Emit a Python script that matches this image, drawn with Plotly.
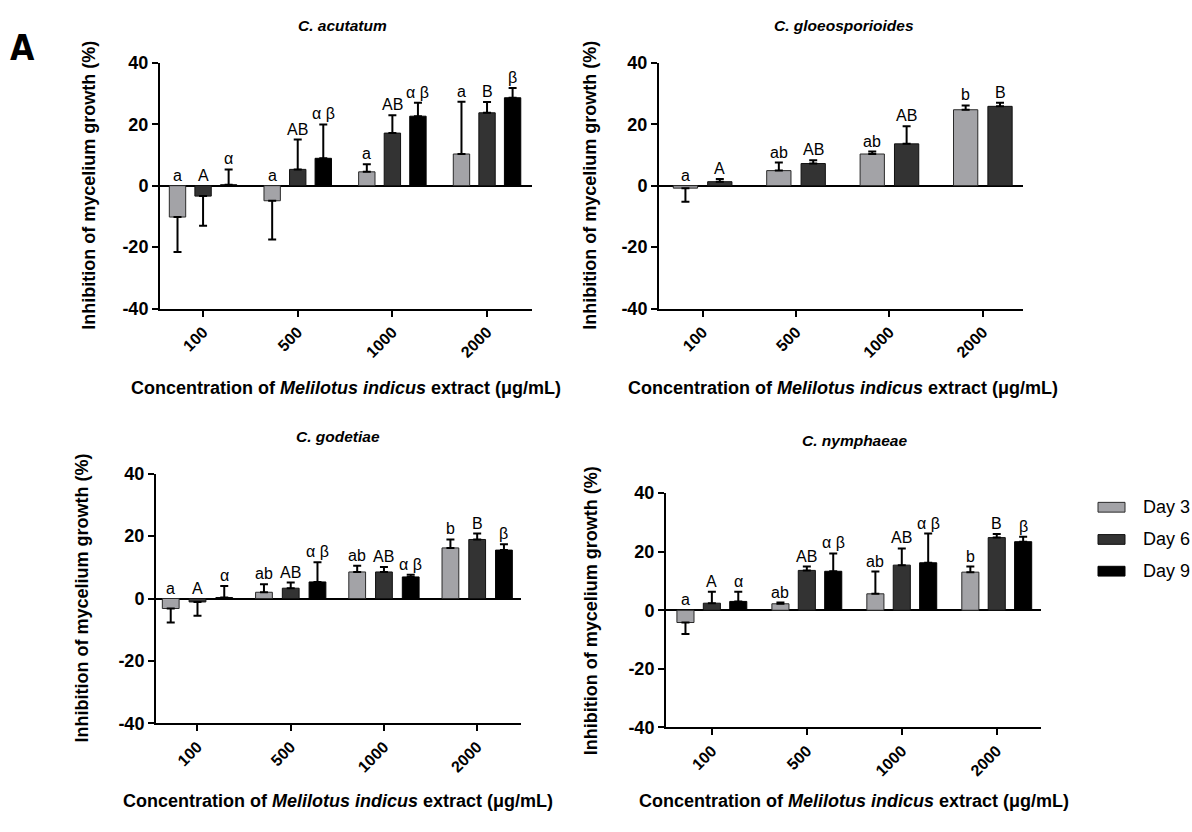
import plotly.graph_objects as go

# ---------------- data ----------------
categories = ["100", "500", "1000", "2000"]
days = ["Day 3", "Day 6", "Day 9"]

# C. acutatum
acu_d3 = [-10.2, -4.9, 4.5, 10.3]
acu_d3_err = [11.4, 12.6, 2.5, 17.0]
acu_d3_lab = ["a", "a", "a", "a"]
acu_d6 = [-3.4, 5.3, 17.1, 23.7]
acu_d6_err = [9.6, 9.7, 5.8, 3.5]
acu_d6_lab = ["A", "AB", "AB", "B"]
acu_d9 = [0.3, 8.9, 22.6, 28.6]
acu_d9_err = [5.0, 11.0, 4.4, 3.2]
acu_d9_lab = ["α", "α β", "α β", "β"]

# C. gloeosporioides
glo_d3 = [-0.8, 4.9, 10.3, 24.7]
glo_d3_err = [4.4, 2.6, 0.8, 1.4]
glo_d3_lab = ["a", "ab", "ab", "b"]
glo_d6 = [1.3, 7.2, 13.6, 25.8]
glo_d6_err = [0.9, 1.1, 5.7, 1.2]
glo_d6_lab = ["A", "AB", "AB", "B"]

# C. godetiae
god_d3 = [-3.2, 2.0, 8.5, 16.2]
god_d3_err = [4.5, 2.6, 2.0, 2.7]
god_d3_lab = ["a", "ab", "ab", "b"]
god_d6 = [-1.1, 3.3, 8.5, 18.9]
god_d6_err = [4.4, 1.8, 1.6, 1.9]
god_d6_lab = ["A", "AB", "AB", "B"]
god_d9 = [0.3, 5.3, 6.9, 15.5]
god_d9_err = [3.7, 6.3, 0.7, 1.9]
god_d9_lab = ["α", "α β", "α β", "β"]

# C. nymphaeae
nym_d3 = [-4.2, 2.2, 5.6, 13.0]
nym_d3_err = [3.9, 0.4, 7.6, 1.9]
nym_d3_lab = ["a", "ab", "ab", "b"]
nym_d6 = [2.4, 13.6, 15.4, 24.8]
nym_d6_err = [3.9, 1.3, 5.7, 1.2]
nym_d6_lab = ["A", "AB", "AB", "B"]
nym_d9 = [3.0, 13.3, 16.2, 23.4]
nym_d9_err = [3.3, 6.1, 10.0, 1.7]
nym_d9_lab = ["α", "α β", "α β", "β"]

panel_titles = ["C. acutatum", "C. gloeosporioides", "C. godetiae", "C. nymphaeae"]
y_ticks = [-40, -20, 0, 20, 40]
y_ticktext = ["-40", "-20", "0", "20", "40"]
x_title = "<b>Concentration of <i>Melilotus indicus</i> extract (μg/mL)</b>"
y_title = "<b>Inhibition of mycelium growth (%)</b>"

panel_series = [
    [(acu_d3, acu_d3_err, acu_d3_lab), (acu_d6, acu_d6_err, acu_d6_lab), (acu_d9, acu_d9_err, acu_d9_lab)],
    [(glo_d3, glo_d3_err, glo_d3_lab), (glo_d6, glo_d6_err, glo_d6_lab)],
    [(god_d3, god_d3_err, god_d3_lab), (god_d6, god_d6_err, god_d6_lab), (god_d9, god_d9_err, god_d9_lab)],
    [(nym_d3, nym_d3_err, nym_d3_lab), (nym_d6, nym_d6_err, nym_d6_lab), (nym_d9, nym_d9_err, nym_d9_lab)],
]

# ---------------- style / layout ----------------
W, H = 1192, 832
FONT = "Liberation Sans, Arial, sans-serif"
fills = ["#a3a3a7", "#333333", "#000000"]
outlines = ["#2a2a2a", "#111111", "#000000"]


def px(x):
    return x / W


def py(y):
    return 1 - y / H


panels = [
    dict(x0=160, x1=532, y0=54, y1=306, xr=[-0.455, 3.475], tx=342, ty=16,
         xtx=346, xty=387, ytx=89, yty=180, offs=[-0.27, 0.0, 0.27], w=0.173),
    dict(x0=659, x1=1023, y0=54, y1=306, xr=[-0.467, 3.43], tx=844, ty=16,
         xtx=843, xty=387, ytx=590, yty=180, offs=[-0.184, 0.184], w=0.26),
    dict(x0=156, x1=521, y0=475, y1=731, xr=[-0.445, 3.47], tx=338, ty=437,
         xtx=338, xty=810, ytx=82, yty=603, offs=[-0.287, 0.0, 0.287], w=0.18),
    dict(x0=666, x1=1041, y0=495, y1=735, xr=[-0.483, 3.466], tx=855, ty=441,
         xtx=854, xty=810, ytx=591, yty=616, offs=[-0.278, 0.0, 0.278], w=0.18),
]

fig = go.Figure()
annotations = []
layout_axes = {}

for k, (P, series) in enumerate(zip(panels, panel_series)):
    n = k + 1
    xa = "x" if n == 1 else f"x{n}"
    ya = "y" if n == 1 else f"y{n}"
    for t, (vals, errs, labs) in enumerate(series):
        up = [e if v >= 0 else 0 for v, e in zip(vals, errs)]
        down = [e if v < 0 else 0 for v, e in zip(vals, errs)]
        fig.add_trace(go.Bar(
            x=categories, y=vals, name=days[t], xaxis=xa, yaxis=ya,
            offset=P["offs"][t] - P["w"] / 2, width=P["w"],
            marker=dict(color=fills[t], line=dict(color=outlines[t], width=1)),
            error_y=dict(type="data", symmetric=False, array=up, arrayminus=down,
                         color="black", thickness=2, width=4),
            showlegend=False,
        ))
        for i, (v, e, lab) in enumerate(zip(vals, errs, labs)):
            top = v + e if v >= 0 else 0
            annotations.append(dict(
                x=i + P["offs"][t], y=top, xref=xa, yref=ya, text=lab,
                showarrow=False, yanchor="bottom", xanchor="center", yshift=0,
                font=dict(family=FONT, size=16, color="black"),
            ))
    axis_common = dict(showline=True, linewidth=2, linecolor="black", ticks="outside",
                       ticklen=6, tickwidth=2, tickcolor="black", showgrid=False,
                       fixedrange=True)
    layout_axes["xaxis" if n == 1 else f"xaxis{n}"] = dict(
        domain=[px(P["x0"]), px(P["x1"])], anchor=ya, type="category",
        range=P["xr"], tickangle=-45, zeroline=False,
        tickfont=dict(family=FONT, size=16, color="black", weight="bold"),
        **axis_common)
    layout_axes["yaxis" if n == 1 else f"yaxis{n}"] = dict(
        domain=[py(P["y1"]), py(P["y0"])], anchor=xa, range=[-40, 40],
        tickmode="array", tickvals=y_ticks, ticktext=y_ticktext,
        zeroline=True, zerolinecolor="black", zerolinewidth=2,
        tickfont=dict(family=FONT, size=18, color="black", weight="bold"),
        **axis_common)
    # panel title
    annotations.append(dict(x=px(P["tx"]), y=py(P["ty"]), xref="paper", yref="paper",
                            text=f"<b><i>{panel_titles[k]}</i></b>", showarrow=False,
                            xanchor="center", yanchor="middle",
                            font=dict(family=FONT, size=15.5, color="black")))
    # x axis title
    annotations.append(dict(x=px(P["xtx"]), y=py(P["xty"]), xref="paper", yref="paper",
                            text=x_title, showarrow=False, xanchor="center", yanchor="middle",
                            font=dict(family=FONT, size=18, color="black")))
    # y axis title
    annotations.append(dict(x=px(P["ytx"]), y=py(P["yty"]), xref="paper", yref="paper",
                            text=y_title, showarrow=False, textangle=-90,
                            xanchor="center", yanchor="middle",
                            font=dict(family=FONT, size=18, color="black")))

# panel label
annotations.append(dict(x=px(22), y=py(39), xref="paper", yref="paper", text="<b>A</b>",
                        showarrow=False, xanchor="center", yanchor="middle",
                        font=dict(family="DejaVu Sans Condensed, Liberation Sans Narrow, Arial Narrow, sans-serif",
                                  size=35, color="black")))

# legend (manual, to match swatch shape and spacing)
shapes = []
legend_rows = [509.5, 542.5, 575]
for t, yc in enumerate(legend_rows):
    shapes.append(dict(type="rect", xref="paper", yref="paper",
                       x0=px(1098), x1=px(1125), y0=py(yc + 5), y1=py(yc - 5),
                       fillcolor=fills[t], line=dict(color=outlines[t], width=1)))
    annotations.append(dict(x=px(1141), y=py(yc), xref="paper", yref="paper", text=days[t],
                            showarrow=False, xanchor="left", yanchor="middle",
                            font=dict(family=FONT, size=18, color="black")))

fig.update_layout(
    width=W, height=H, margin=dict(l=0, r=0, t=0, b=0),
    paper_bgcolor="white", plot_bgcolor="white",
    barmode="overlay", showlegend=False,
    annotations=annotations, shapes=shapes,
    font=dict(family=FONT, color="black"),
    **layout_axes,
)

fig.write_html("out.html")
